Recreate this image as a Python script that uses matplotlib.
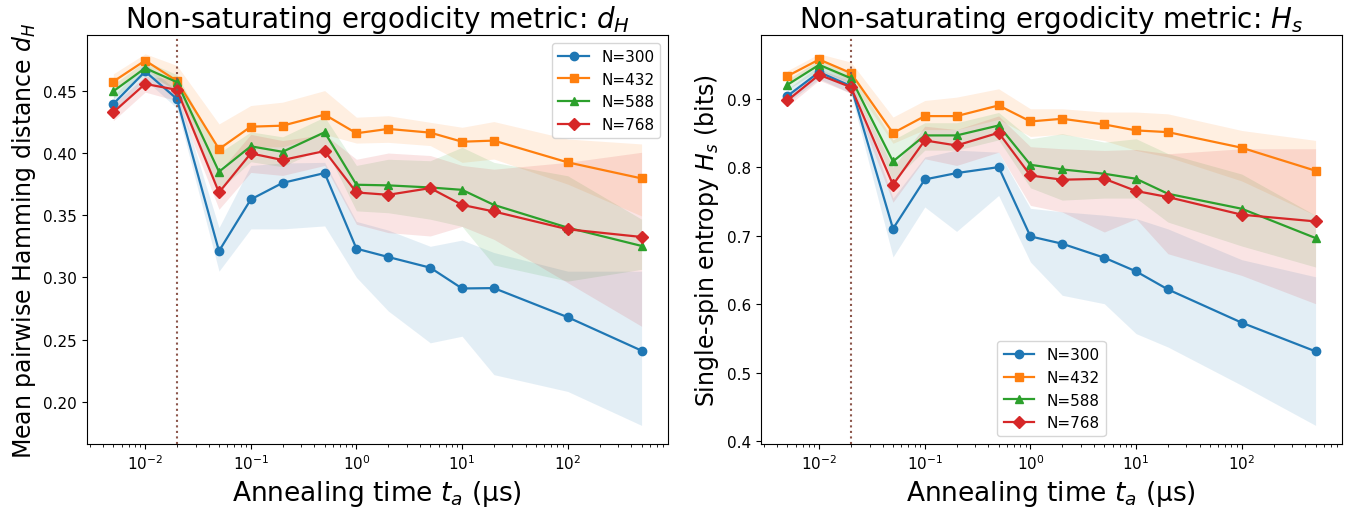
import numpy as np
import matplotlib
matplotlib.use("Agg")
import matplotlib.pyplot as plt

# annealing times (us)
t_a = [0.005, 0.01, 0.02, 0.05, 0.1, 0.2, 0.5, 1, 2, 5, 10, 20, 100, 500]
sizes = ["N=300", "N=432", "N=588", "N=768"]

# --- mean pairwise Hamming distance d_H ---
dh_300 = [0.4395, 0.4656, 0.4435, 0.3212, 0.3627, 0.3760, 0.3839, 0.3231, 0.3164, 0.3078, 0.2911, 0.2914, 0.2680, 0.2411]
dh_432 = [0.4575, 0.4744, 0.4580, 0.4032, 0.4212, 0.4220, 0.4309, 0.4159, 0.4194, 0.4164, 0.4091, 0.4100, 0.3925, 0.3796]
dh_588 = [0.4497, 0.4683, 0.4570, 0.3850, 0.4054, 0.4010, 0.4167, 0.3745, 0.3740, 0.3723, 0.3704, 0.3583, 0.3400, 0.3253]
dh_768 = [0.4328, 0.4556, 0.4508, 0.3683, 0.3997, 0.3944, 0.4016, 0.3683, 0.3664, 0.3718, 0.3583, 0.3530, 0.3387, 0.3325]

dh_300_lo = [0.4330, 0.4590, 0.4360, 0.3050, 0.3390, 0.3390, 0.3414, 0.3000, 0.2730, 0.2474, 0.2527, 0.2218, 0.2083, 0.1810]
dh_300_hi = [0.4460, 0.4720, 0.4500, 0.3400, 0.3900, 0.3920, 0.3925, 0.3450, 0.3380, 0.3250, 0.3300, 0.3200, 0.3050, 0.3050]
dh_432_lo = [0.4510, 0.4680, 0.4480, 0.3880, 0.4050, 0.4050, 0.4150, 0.4080, 0.4086, 0.4060, 0.3925, 0.3952, 0.3750, 0.3494]
dh_432_hi = [0.4637, 0.4798, 0.4704, 0.4234, 0.4382, 0.4409, 0.4502, 0.4288, 0.4300, 0.4247, 0.4207, 0.4253, 0.4113, 0.4073]
dh_588_lo = [0.4440, 0.4630, 0.4510, 0.3700, 0.3930, 0.3890, 0.4050, 0.3535, 0.3520, 0.3468, 0.3410, 0.3100, 0.2970, 0.3065]
dh_588_hi = [0.4550, 0.4740, 0.4630, 0.4000, 0.4170, 0.4130, 0.4290, 0.3900, 0.3950, 0.3938, 0.4046, 0.3925, 0.3817, 0.3468]
dh_768_lo = [0.4260, 0.4490, 0.4420, 0.3548, 0.3844, 0.3820, 0.3900, 0.3427, 0.3360, 0.3333, 0.3410, 0.3306, 0.2957, 0.2607]
dh_768_hi = [0.4390, 0.4620, 0.4590, 0.3850, 0.4150, 0.4100, 0.4150, 0.3950, 0.4000, 0.3980, 0.3900, 0.3870, 0.3925, 0.4006]

# --- single-spin entropy H_s (bits) ---
hs_300 = [0.9040, 0.9390, 0.9185, 0.7102, 0.7822, 0.7915, 0.8002, 0.6990, 0.6883, 0.6679, 0.6479, 0.6216, 0.5730, 0.5311]
hs_432 = [0.9331, 0.9574, 0.9375, 0.8500, 0.8747, 0.8747, 0.8903, 0.8669, 0.8708, 0.8625, 0.8538, 0.8513, 0.8285, 0.7949]
hs_588 = [0.9204, 0.9496, 0.9300, 0.8085, 0.8465, 0.8465, 0.8610, 0.8036, 0.7968, 0.7905, 0.7832, 0.7613, 0.7394, 0.6966]
hs_768 = [0.8975, 0.9350, 0.9170, 0.7745, 0.8392, 0.8318, 0.8504, 0.7880, 0.7818, 0.7832, 0.7653, 0.7565, 0.7307, 0.7209]

hs_300_lo = [0.8940, 0.9290, 0.9080, 0.6690, 0.7420, 0.7063, 0.7588, 0.6616, 0.6130, 0.6007, 0.5570, 0.5375, 0.4815, 0.4230]
hs_300_hi = [0.9140, 0.9490, 0.9290, 0.7550, 0.8150, 0.8250, 0.8220, 0.7400, 0.7350, 0.7300, 0.7250, 0.7100, 0.6650, 0.6400]
hs_432_lo = [0.9250, 0.9490, 0.9250, 0.8350, 0.8550, 0.8550, 0.8700, 0.8450, 0.8480, 0.8390, 0.8245, 0.8150, 0.7800, 0.7297]
hs_432_hi = [0.9410, 0.9657, 0.9535, 0.8733, 0.8975, 0.9024, 0.9146, 0.8854, 0.8854, 0.8806, 0.8806, 0.8780, 0.8537, 0.8392]
hs_588_lo = [0.9130, 0.9420, 0.9220, 0.7800, 0.8250, 0.8250, 0.8400, 0.7700, 0.7520, 0.7550, 0.7550, 0.7200, 0.6850, 0.6543]
hs_588_hi = [0.9280, 0.9570, 0.9380, 0.8400, 0.8650, 0.8650, 0.8800, 0.8416, 0.8490, 0.8367, 0.8416, 0.8200, 0.7900, 0.7297]
hs_768_lo = [0.8890, 0.9270, 0.9080, 0.7490, 0.8124, 0.8026, 0.8220, 0.7443, 0.7346, 0.7054, 0.7248, 0.6737, 0.6420, 0.6007]
hs_768_hi = [0.9060, 0.9430, 0.9260, 0.8000, 0.8600, 0.8550, 0.8750, 0.8300, 0.8270, 0.8245, 0.8260, 0.8197, 0.8270, 0.8270]

colors = ["tab:blue", "tab:orange", "tab:green", "tab:red"]
markers = ["o", "s", "^", "D"]

dh = [(dh_300, dh_300_lo, dh_300_hi), (dh_432, dh_432_lo, dh_432_hi),
      (dh_588, dh_588_lo, dh_588_hi), (dh_768, dh_768_lo, dh_768_hi)]
hs = [(hs_300, hs_300_lo, hs_300_hi), (hs_432, hs_432_lo, hs_432_hi),
      (hs_588, hs_588_lo, hs_588_hi), (hs_768, hs_768_lo, hs_768_hi)]

fig, axes = plt.subplots(1, 2, figsize=(13.67, 5.10), dpi=100)
fig.subplots_adjust(left=0.0636, right=0.9817, top=0.929, bottom=0.1275, wspace=0.16)

panels = [
    (axes[0], dh, "Non-saturating ergodicity metric: $d_H$", "Mean pairwise Hamming distance $d_H$", "upper right"),
    (axes[1], hs, "Non-saturating ergodicity metric: $H_s$", "Single-spin entropy $H_s$ (bits)", "lower center"),
]

for ax, data, title, ylabel, loc in panels:
    for (mean, lo, hi), c, m, lab in zip(data, colors, markers, sizes):
        ax.fill_between(t_a, lo, hi, color=c, alpha=0.12, linewidth=0)
        ax.plot(t_a, mean, color=c, marker=m, markersize=6, linewidth=1.6, label=lab)
    ax.axvline(0.02, color="tab:brown", linestyle=":", linewidth=1.5)
    ax.set_xscale("log")
    ax.set_title(title, fontsize=20)
    ax.set_xlabel("Annealing time $t_a$ (μs)", fontsize=19)
    ax.set_ylabel(ylabel, fontsize=17)
    ax.tick_params(labelsize=11)
    ax.legend(loc=loc, fontsize=11)

plt.savefig("out.png")
